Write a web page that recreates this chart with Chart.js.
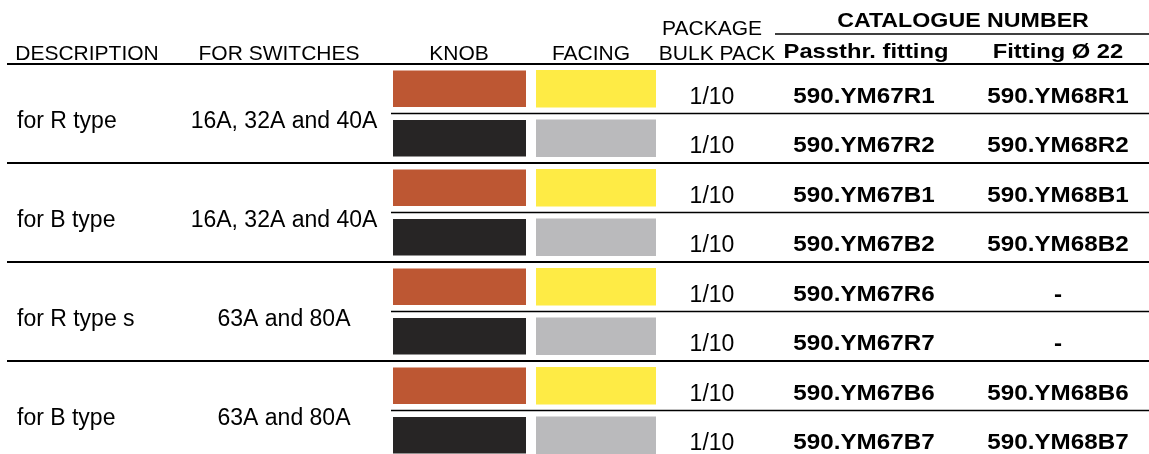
<!DOCTYPE html>
<html>
<head>
<meta charset="utf-8">
<script src="https://cdn.jsdelivr.net/npm/chart.js@4"></script>
<style>
  html, body { margin: 0; padding: 0; background: #fff; overflow: hidden; }
</style>
</head>
<body>
<canvas id="chart-knobs" width="1149" height="460"></canvas>
<script>
// data
var rowLabels = ['R1', 'R2', 'B1', 'B2', 'R6', 'R7', 'B6', 'B7'];
var descriptions = ['for R type', 'for B type', 'for R type s', 'for B type'];
var switches = ['16A, 32A and 40A', '16A, 32A and 40A', '63A and 80A', '63A and 80A'];
var knobColors = ['#BD5733', '#272525', '#BD5733', '#272525', '#BD5733', '#272525', '#BD5733', '#272525'];
var facingColors = ['#FEEB45', '#BABABC', '#FEEB45', '#BABABC', '#FEEB45', '#BABABC', '#FEEB45', '#BABABC'];
var bulkPack = ['1/10', '1/10', '1/10', '1/10', '1/10', '1/10', '1/10', '1/10'];
var passthrFitting = ['590.YM67R1', '590.YM67R2', '590.YM67B1', '590.YM67B2', '590.YM67R6', '590.YM67R7', '590.YM67B6', '590.YM67B7'];
var fitting22 = ['590.YM68R1', '590.YM68R2', '590.YM68B1', '590.YM68B2', '-', '-', '590.YM68B6', '590.YM68B7'];

// layout (x scale runs 0..1149 across the canvas)
var cols = {
    knob: [393, 526],
    facing: [536, 656],
    descLeft: 17,
    switches: 284,
    pack: 712,
    passthr: 864,
    fitting: 1058
};

var canv = document.getElementById('chart-knobs');
var context = canv.getContext('2d');

var drawText = (ctx, text, x, y, font, align, sx) => {
    ctx.save();
    ctx.font = font;
    ctx.fillStyle = '#000';
    ctx.textAlign = align;
    ctx.textBaseline = 'alphabetic';
    ctx.translate(x, y);
    ctx.scale(sx || 1, 1);
    ctx.fillText(text, 0, 0);
    ctx.restore();
};

var tablePlugin = {
    id: 'tablePlugin',
    afterDraw: (chart) => {
        var ctx = chart.ctx;
        var xs = chart.scales.x;
        var ys = chart.scales.y;
        var rowH = ys.getPixelForValue(1) - ys.getPixelForValue(0);
        var right = xs.getPixelForValue(1149);
        var reg = '23px "Liberation Sans", Arial, sans-serif';
        var head = '21px "Liberation Sans", Arial, sans-serif';
        var bold = 'bold 22px "Liberation Sans", Arial, sans-serif';
        var boldHead = 'bold 21px "Liberation Sans", Arial, sans-serif';

        // row rules
        ctx.save();
        ctx.strokeStyle = '#000';
        for (var i = 0; i < rowLabels.length; i++) {
            var y = ys.getPixelForValue(i) - rowH / 2;
            ctx.beginPath();
            if (i % 2 === 0) {
                ctx.lineWidth = 2;
                ctx.moveTo(xs.getPixelForValue(7), y);
            } else {
                ctx.lineWidth = 1.5;
                ctx.moveTo(xs.getPixelForValue(391), y);
            }
            ctx.lineTo(right, y);
            ctx.stroke();
        }
        // catalogue underline
        ctx.lineWidth = 1.5;
        ctx.beginPath();
        ctx.moveTo(xs.getPixelForValue(775), 34);
        ctx.lineTo(right, 34);
        ctx.stroke();
        ctx.restore();

        // headers
        drawText(ctx, 'DESCRIPTION', xs.getPixelForValue(87), 60, head, 'center');
        drawText(ctx, 'FOR SWITCHES', xs.getPixelForValue(279), 60, head, 'center');
        drawText(ctx, 'KNOB', xs.getPixelForValue(459), 60, head, 'center');
        drawText(ctx, 'FACING', xs.getPixelForValue(591), 60, head, 'center');
        drawText(ctx, 'PACKAGE', xs.getPixelForValue(712), 35, head, 'center');
        drawText(ctx, 'BULK PACK', xs.getPixelForValue(717), 60, head, 'center');
        drawText(ctx, 'CATALOGUE NUMBER', xs.getPixelForValue(963), 27, 'bold 20px "Liberation Sans", Arial, sans-serif', 'center', 1.16);
        drawText(ctx, 'Passthr. fitting', xs.getPixelForValue(866), 58, boldHead, 'center', 1.13);
        drawText(ctx, 'Fitting \u00D8 22', xs.getPixelForValue(1058), 58, boldHead, 'center', 1.13);

        // group texts
        for (var g = 0; g < descriptions.length; g++) {
            var gy = (ys.getPixelForValue(g * 2) + ys.getPixelForValue(g * 2 + 1)) / 2 + 14.5;
            drawText(ctx, descriptions[g], xs.getPixelForValue(cols.descLeft), gy, reg, 'left');
            drawText(ctx, switches[g], xs.getPixelForValue(cols.switches), gy, reg, 'center');
        }

        // row texts
        for (var r = 0; r < rowLabels.length; r++) {
            var cy = ys.getPixelForValue(r);
            drawText(ctx, bulkPack[r], xs.getPixelForValue(cols.pack), cy + 15, reg, 'center');
            drawText(ctx, passthrFitting[r], xs.getPixelForValue(cols.passthr), cy + 14, bold, 'center', 1.1);
            drawText(ctx, fitting22[r], xs.getPixelForValue(cols.fitting), cy + 14, bold, 'center', 1.1);
        }
    }
};

var config = {
    type: 'bar',
    data: {
        labels: rowLabels,
        datasets: [{
            label: 'KNOB',
            data: rowLabels.map(() => cols.knob),
            backgroundColor: knobColors,
            grouped: false,
            barPercentage: 0.74,
            categoryPercentage: 1
        }, {
            label: 'FACING',
            data: rowLabels.map(() => cols.facing),
            backgroundColor: facingColors,
            grouped: false,
            barPercentage: 0.76,
            categoryPercentage: 1
        }]
    },
    options: {
        indexAxis: 'y',
        responsive: false,
        devicePixelRatio: 1,
        animation: false,
        layout: { padding: { top: 64, left: 0, right: 0, bottom: 0 } },
        plugins: { legend: { display: false }, tooltip: { enabled: false } },
        scales: {
            x: { type: 'linear', min: 0, max: 1149, display: false },
            y: { type: 'category', display: false, offset: true }
        }
    },
    plugins: [tablePlugin]
};

var chart1 = new Chart(context, config);
</script>
</body>
</html>
